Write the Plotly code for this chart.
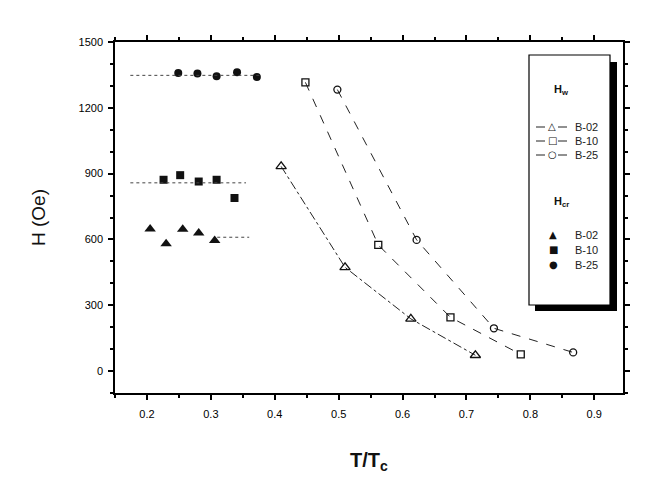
import plotly.graph_objects as go

# H_w (open symbols, connected)
b02_w_x = [0.41, 0.51, 0.613, 0.714]
b02_w_y = [933, 473, 238, 72]
b10_w_x = [0.448, 0.562, 0.675, 0.785]
b10_w_y = [1316, 575, 245, 76]
b25_w_x = [0.498, 0.622, 0.743, 0.867]
b25_w_y = [1283, 598, 195, 85]

# H_cr (filled symbols)
b02_c_x = [0.205, 0.23, 0.256, 0.281, 0.306]
b02_c_y = [648, 580, 647, 629, 595]
b10_c_x = [0.226, 0.252, 0.281, 0.309, 0.337]
b10_c_y = [872, 893, 864, 872, 789]
b25_c_x = [0.249, 0.279, 0.309, 0.341, 0.372]
b25_c_y = [1359, 1356, 1344, 1362, 1341]

# dotted mean levels
b02_mean_x = [0.31, 0.36]
b02_mean_y = [610, 610]
b10_mean_x = [0.174, 0.355]
b10_mean_y = [858, 858]
b25_mean_x = [0.174, 0.38]
b25_mean_y = [1348, 1348]

series_names = ["B-02", "B-10", "B-25"]

fig = go.Figure()
lc = "#222"
FONT = "Arial, Liberation Sans"

w_sets = [(b02_w_x, b02_w_y, "triangle-up-open", "dashdot", 9),
          (b10_w_x, b10_w_y, "square-open", "dash", 7),
          (b25_w_x, b25_w_y, "circle-open", "dash", 7)]
for (x, y, sym, dash, sz), nm in zip(w_sets, series_names):
    fig.add_trace(go.Scatter(x=x, y=y, mode="lines+markers", name=nm, showlegend=False,
        line=dict(color=lc, width=1, dash=dash),
        marker=dict(symbol=sym, size=sz, color="#111", line=dict(width=1.3))))

c_sets = [(b02_c_x, b02_c_y, "triangle-up", 10),
          (b10_c_x, b10_c_y, "square", 8),
          (b25_c_x, b25_c_y, "circle", 8)]
for (x, y, sym, sz), nm in zip(c_sets, series_names):
    fig.add_trace(go.Scatter(x=x, y=y, mode="markers", name=nm, showlegend=False,
        marker=dict(symbol=sym, size=sz, color="#111")))

for mx, my in [(b02_mean_x, b02_mean_y), (b10_mean_x, b10_mean_y), (b25_mean_x, b25_mean_y)]:
    fig.add_trace(go.Scatter(x=mx, y=my, mode="lines", showlegend=False,
        line=dict(color="#444", width=1, dash="dot")))

axis_common = dict(showline=True, linecolor="black", linewidth=1.5, mirror="ticks",
                   ticks="outside", ticklen=5, tickwidth=1.5, tickcolor="black",
                   showgrid=False, zeroline=False,
                   tickfont=dict(family=FONT, size=11, color="black"))

fig.update_xaxes(range=[0.15, 0.945], dtick=0.1, tick0=0.2, ticklabelstandoff=5,
                 minor=dict(dtick=0.05, ticks="outside", ticklen=3, tickcolor="black"),
                 title=dict(text="<b>T/T<sub>c</sub></b>", font=dict(family=FONT, size=20, color="#111"), standoff=34),
                 **axis_common)
fig.update_yaxes(range=[-100, 1500], dtick=300, tick0=0, ticklabelstandoff=3,
                 minor=dict(dtick=100, ticks="outside", ticklen=3, tickcolor="black"),
                 title=dict(text="H (Oe)", font=dict(family=FONT, size=19, color="#111"), standoff=28),
                 **axis_common)

# ---- manual legend (paper coordinates from pixel positions) ----
L, R, T, B = 115, 623, 42, 393
def px(xp): return (xp - L) / (R - L)
def py(yp): return (B - yp) / (B - T)

shapes = []
shapes.append(dict(type="rect", xref="paper", yref="paper", x0=px(535), x1=px(617), y0=py(311), y1=py(62),
                   fillcolor="black", line=dict(width=0), layer="above"))
shapes.append(dict(type="rect", xref="paper", yref="paper", x0=px(529), x1=px(610), y0=py(305), y1=py(55),
                   fillcolor="white", line=dict(color="black", width=1.2), layer="above"))
annotations = []
for yy, t in [(90, "<b>H<sub>w</sub></b>"), (202, "<b>H<sub>cr</sub></b>")]:
    annotations.append(dict(xref="paper", yref="paper", x=px(552), y=py(yy), text=t,
                            showarrow=False, xanchor="left", yanchor="middle",
                            font=dict(family=FONT, size=11, color="#111")))

w_rows = [127, 141, 155]
w_glyphs = ["\u25B3", "\u25A1", "\u25CB"]
w_dash = ["dashdot", "dash", "dash"]
for yy, g, d, nm in zip(w_rows, w_glyphs, w_dash, series_names):
    shapes.append(dict(type="line", xref="paper", yref="paper", x0=px(536), x1=px(546), y0=py(yy), y1=py(yy),
                       line=dict(color=lc, width=1, dash=d), layer="above"))
    shapes.append(dict(type="line", xref="paper", yref="paper", x0=px(558), x1=px(568), y0=py(yy), y1=py(yy),
                       line=dict(color=lc, width=1, dash=d), layer="above"))
    annotations.append(dict(xref="paper", yref="paper", x=px(552), y=py(yy), text=g, showarrow=False,
                            xanchor="center", yanchor="middle", yshift=1,
                            font=dict(family="DejaVu Sans", size=10, color="#111")))
    annotations.append(dict(xref="paper", yref="paper", x=px(573), y=py(yy), text=nm, showarrow=False,
                            xanchor="left", yanchor="middle", font=dict(family=FONT, size=11, color="#222")))

c_rows = [235, 250, 265]
c_glyphs = ["\u25B2", "\u25A0", "\u25CF"]
for yy, g, nm in zip(c_rows, c_glyphs, series_names):
    annotations.append(dict(xref="paper", yref="paper", x=px(553), y=py(yy), text=g, showarrow=False,
                            xanchor="center", yanchor="middle", yshift=1,
                            font=dict(family="DejaVu Sans", size=10, color="#111")))
    annotations.append(dict(xref="paper", yref="paper", x=px(573), y=py(yy), text=nm, showarrow=False,
                            xanchor="left", yanchor="middle", font=dict(family=FONT, size=11, color="#222")))

fig.update_layout(
    width=659, height=500,
    margin=dict(l=L, r=659 - R, t=T, b=500 - B),
    plot_bgcolor="white", paper_bgcolor="white",
    showlegend=False,
    shapes=shapes, annotations=annotations,
)

fig.write_html("out.html")
